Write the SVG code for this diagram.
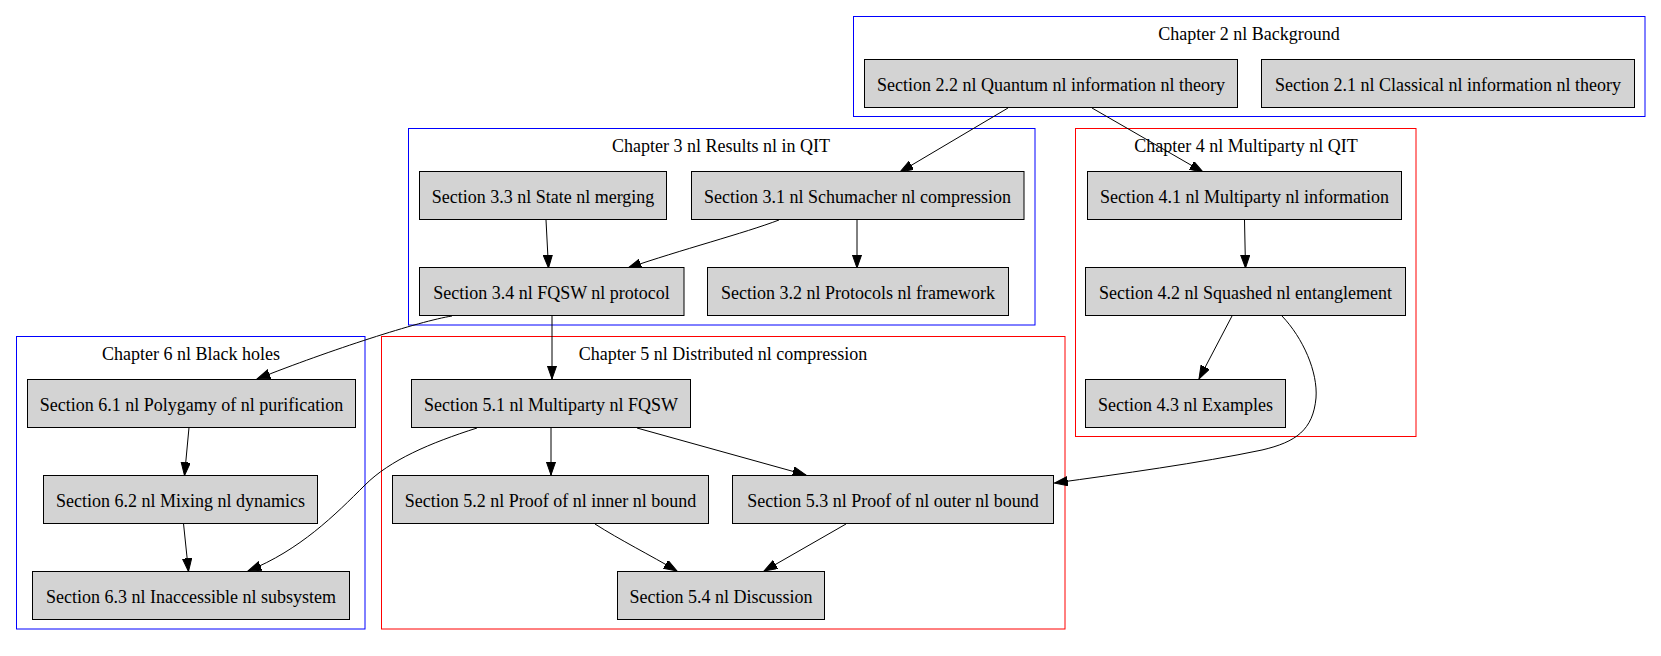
<svg xmlns="http://www.w3.org/2000/svg" width="1661" height="656" viewBox="0 0 1661 656">
<defs>
<marker id="arr" markerUnits="userSpaceOnUse" markerWidth="14" markerHeight="10" refX="13.3" refY="4.67" orient="auto">
<path d="M0,0 L13.3,4.67 L0,9.33 z" fill="#000" stroke="#000" stroke-width="1"/>
</marker>
</defs>
<style>
.cb{fill:none;stroke:#0000ff;stroke-width:1}
.cr{fill:none;stroke:#ff0000;stroke-width:1}
.n{fill:#d3d3d3;stroke:#000;stroke-width:1}
text{font-family:"Liberation Serif","Times New Roman",serif;font-size:18px;fill:#000;text-anchor:middle}
.e{fill:none;stroke:#000;stroke-width:1;marker-end:url(#arr)}
</style>
<rect width="1661" height="656" fill="#fff"/>
<g id="clusters">
<g id="chapter2"><rect class="cb" x="853.5" y="16.5" width="791.5" height="100"/><text x="1249" y="39.5">Chapter 2 nl Background</text></g>
<g id="chapter3"><rect class="cb" x="408.5" y="128.5" width="626.5" height="196.5"/><text x="721" y="151.5">Chapter 3 nl Results nl in QIT</text></g>
<g id="chapter4"><rect class="cr" x="1075.5" y="128.5" width="340.5" height="308"/><text x="1246" y="151.5">Chapter 4 nl Multiparty nl QIT</text></g>
<g id="chapter5"><rect class="cr" x="381.5" y="336.5" width="683.5" height="292.5"/><text x="723" y="359.5">Chapter 5 nl Distributed nl compression</text></g>
<g id="chapter6"><rect class="cb" x="16.5" y="336.5" width="348.5" height="292.5"/><text x="191" y="359.5">Chapter 6 nl Black holes</text></g>
</g>
<g id="edges">
<path class="e" d="M1008,108 L900,172"/>
<path class="e" d="M1092,108 L1203,172"/>
<path class="e" d="M546,220 L548.5,268"/>
<path class="e" d="M779,220 C745,233 680,250 628,268"/>
<path class="e" d="M857,220 L857,268"/>
<path class="e" d="M452,316 C420,321 330,350 257,379"/>
<path class="e" d="M552,316 L552,379"/>
<path class="e" d="M1244.5,220 L1245.5,268"/>
<path class="e" d="M1232,316 L1199,379"/>
<path class="e" d="M1282,316 C1303,338 1318,372 1316,398 C1313,430 1296,442 1262,450 C1200,463 1120,474 1054.5,483"/>
<path class="e" d="M477,428 C430,443 390,460 365,485 C335,515 300,550 248,571"/>
<path class="e" d="M551,428 L551,475"/>
<path class="e" d="M637,428 L806,475"/>
<path class="e" d="M595,524 C620,540 650,555 677,571"/>
<path class="e" d="M846,524 L764,571"/>
<path class="e" d="M189,427.5 L184.5,475.5"/>
<path class="e" d="M183.5,523.5 L188.5,571.5"/>
</g>
<g id="s2_2"><rect class="n" x="864.5" y="59.5" width="373" height="48"/><text x="1051" y="90.5">Section 2.2 nl Quantum nl information nl theory</text></g>
<g id="s2_1"><rect class="n" x="1261.5" y="59.5" width="373" height="48"/><text x="1448" y="90.5">Section 2.1 nl Classical nl information nl theory</text></g>
<g id="s3_3"><rect class="n" x="419.5" y="171.5" width="247" height="48"/><text x="543" y="202.5">Section 3.3 nl State nl merging</text></g>
<g id="s3_1"><rect class="n" x="691.5" y="171.5" width="332.5" height="48"/><text x="857.5" y="202.5">Section 3.1 nl Schumacher nl compression</text></g>
<g id="s3_4"><rect class="n" x="419.5" y="267.5" width="264.5" height="48"/><text x="551.5" y="298.5">Section 3.4 nl FQSW nl protocol</text></g>
<g id="s3_2"><rect class="n" x="707.5" y="267.5" width="301" height="48"/><text x="858" y="298.5">Section 3.2 nl Protocols nl framework</text></g>
<g id="s4_1"><rect class="n" x="1087.5" y="171.5" width="314" height="48"/><text x="1244.5" y="202.5">Section 4.1 nl Multiparty nl information</text></g>
<g id="s4_2"><rect class="n" x="1085.5" y="267.5" width="320" height="48"/><text x="1245.5" y="298.5">Section 4.2 nl Squashed nl entanglement</text></g>
<g id="s4_3"><rect class="n" x="1085.5" y="379.5" width="200" height="48"/><text x="1185.5" y="410.5">Section 4.3 nl Examples</text></g>
<g id="s5_1"><rect class="n" x="411.5" y="379.5" width="279" height="48"/><text x="551" y="410.5">Section 5.1 nl Multiparty nl FQSW</text></g>
<g id="s5_2"><rect class="n" x="392.5" y="475.5" width="316" height="48"/><text x="550.5" y="506.5">Section 5.2 nl Proof of nl inner nl bound</text></g>
<g id="s5_3"><rect class="n" x="732.5" y="475.5" width="321" height="48"/><text x="893" y="506.5">Section 5.3 nl Proof of nl outer nl bound</text></g>
<g id="s5_4"><rect class="n" x="617.5" y="571.5" width="207" height="48"/><text x="721" y="602.5">Section 5.4 nl Discussion</text></g>
<g id="s6_1"><rect class="n" x="27.5" y="379.5" width="328" height="48"/><text x="191.5" y="410.5">Section 6.1 nl Polygamy of nl purification</text></g>
<g id="s6_2"><rect class="n" x="43.5" y="475.5" width="274" height="48"/><text x="180.5" y="506.5">Section 6.2 nl Mixing nl dynamics</text></g>
<g id="s6_3"><rect class="n" x="32.5" y="571.5" width="317" height="48"/><text x="191" y="602.5">Section 6.3 nl Inaccessible nl subsystem</text></g>
</svg>
